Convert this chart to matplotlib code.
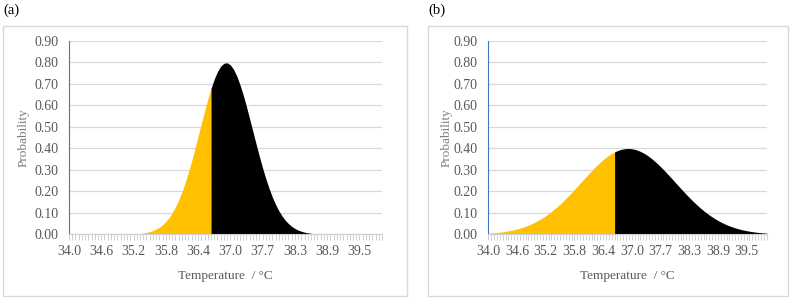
import matplotlib
matplotlib.use("Agg")
import matplotlib.pyplot as plt
from matplotlib.patches import Rectangle

# Category axis: temperature categories (labels shown every 10th category)
tick_labels = ["34.0", "34.6", "35.2", "35.8", "36.4", "37.0", "37.7", "38.3", "38.9", "39.5"]
split_index = 44  # category where colour changes from yellow to black

# Panel (a) probability values per category
prob_a = [0, 0, 0, 0, 0, 0, 0, 0, 0, 0,
          0, 0, 0, 0, 0.0001, 0.0002, 0.0003, 0.0005, 0.0007, 0.0011,
          0.0017, 0.0027, 0.0040, 0.0059, 0.0085, 0.0123, 0.0173, 0.0241, 0.0330, 0.0446,
          0.0593, 0.0778, 0.1005, 0.1278, 0.1602, 0.1979, 0.2406, 0.2889, 0.3405, 0.3964,
          0.4559, 0.5139, 0.5719, 0.6273, 0.6775, 0.7211, 0.7564, 0.7812, 0.7951, 0.7974,
          0.7878, 0.7669, 0.7355, 0.6949, 0.6470, 0.5934, 0.5360, 0.4773, 0.4185, 0.3617,
          0.3078, 0.2583, 0.2135, 0.1738, 0.1394, 0.1102, 0.0858, 0.0658, 0.0498, 0.0370,
          0.0272, 0.0196, 0.0140, 0.0098, 0.0068, 0.0046, 0.0031, 0.0020, 0.0013, 0.0009,
          0.0005, 0.0003, 0.0002, 0.0001, 0, 0, 0, 0, 0, 0,
          0, 0, 0, 0, 0, 0, 0, 0]

# Panel (b) probability values per category
prob_b = [0.0048, 0.0058, 0.0069, 0.0082, 0.0097, 0.0114, 0.0135, 0.0157, 0.0183, 0.0213,
          0.0246, 0.0284, 0.0326, 0.0373, 0.0425, 0.0483, 0.0547, 0.0616, 0.0692, 0.0774,
          0.0863, 0.0958, 0.1060, 0.1169, 0.1284, 0.1404, 0.1531, 0.1663, 0.1800, 0.1940,
          0.2084, 0.2230, 0.2377, 0.2524, 0.2671, 0.2816, 0.2957, 0.3095, 0.3225, 0.3350,
          0.3469, 0.3574, 0.3671, 0.3757, 0.3830, 0.3890, 0.3937, 0.3969, 0.3986, 0.3989,
          0.3977, 0.3950, 0.3909, 0.3854, 0.3786, 0.3705, 0.3612, 0.3509, 0.3395, 0.3274,
          0.3145, 0.3010, 0.2870, 0.2726, 0.2580, 0.2432, 0.2285, 0.2138, 0.1994, 0.1852,
          0.1714, 0.1580, 0.1452, 0.1329, 0.1211, 0.1100, 0.0996, 0.0898, 0.0807, 0.0722,
          0.0644, 0.0572, 0.0506, 0.0446, 0.0392, 0.0343, 0.0299, 0.0260, 0.0225, 0.0194,
          0.0167, 0.0143, 0.0122, 0.0103, 0.0088, 0.0074, 0.0062, 0.0052]

y_ticks = [0.0, 0.1, 0.2, 0.3, 0.4, 0.5, 0.6, 0.7, 0.8, 0.9]

W, H = 790, 299
plt.rcParams['font.family'] = ['Liberation Serif', 'DejaVu Serif']
fig = plt.figure(figsize=(W / 100, H / 100), dpi=100)

YELLOW = "#FFC000"
TXT = "#595959"
GRID = "#D9D9D9"


def px_rect(x0, y0, x1, y1):
    return [x0 / W, 1 - y1 / H, (x1 - x0) / W, (y1 - y0) / H]


def draw_panel(box, plot, values, letter, letter_xy, ylab_x):
    # outer chart border
    bx0, by0, bx1, by1 = box
    fig.patches.append(Rectangle((bx0 / W, 1 - by1 / H), (bx1 - bx0) / W, (by1 - by0) / H,
                                 transform=fig.transFigure, fill=False,
                                 edgecolor=GRID, linewidth=1.0))
    fig.text(letter_xy[0] / W, 1 - letter_xy[1] / H, letter, fontsize=10.5,
             ha="left", va="center", color="#000000")

    ax = fig.add_axes(px_rect(*plot))
    n = len(values)
    xs = list(range(n))
    ax.fill_between(xs[:split_index + 1], values[:split_index + 1], 0,
                    color=YELLOW, linewidth=0)
    ax.fill_between(xs[split_index:], values[split_index:], 0,
                    color="#000000", linewidth=0)
    ax.set_xlim(0, n - 1)
    ax.set_ylim(0, 0.9)
    ax.set_yticks(y_ticks)
    ax.set_yticklabels([f"{v:.2f}" for v in y_ticks])
    ax.yaxis.grid(True, color=GRID, linewidth=0.9)
    ax.set_axisbelow(True)
    ax.set_xticks([10 * i for i in range(len(tick_labels))])
    ax.set_xticklabels(tick_labels)
    ax.set_xticks(xs, minor=True)
    for s in ["top", "right"]:
        ax.spines[s].set_visible(False)
    ax.spines["left"].set_color("#4472C4")
    ax.spines["left"].set_linewidth(0.8)
    ax.spines["bottom"].set_color("#D0D0D0")
    ax.spines["bottom"].set_linewidth(0.8)
    ax.tick_params(axis="y", length=0, pad=7.5, labelsize=10, labelcolor=TXT)
    ax.tick_params(axis="x", which="both", length=4, width=0.6, color="#C8C8C8",
                   direction="out", pad=4, labelsize=10, labelcolor=TXT)
    ax.set_xlabel("Temperature  / °C", fontsize=9.5, color=TXT, labelpad=8)
    ax.set_ylabel("")
    cy = (plot[1] + plot[3]) / 2
    fig.text(ylab_x / W, 1 - cy / H, "Probability", rotation=90, fontsize=9.5,
             color="#7F7F7F", ha="center", va="center")
    return ax


draw_panel((3, 26, 407, 296), (69, 40.7, 382, 234.3), prob_a, "(a)", (3, 10), 24)
draw_panel((428, 26, 788, 296), (488.3, 40.7, 766.7, 234.3), prob_b, "(b)", (428, 10), 447)

fig.savefig("out.png", dpi=100, facecolor="white")
